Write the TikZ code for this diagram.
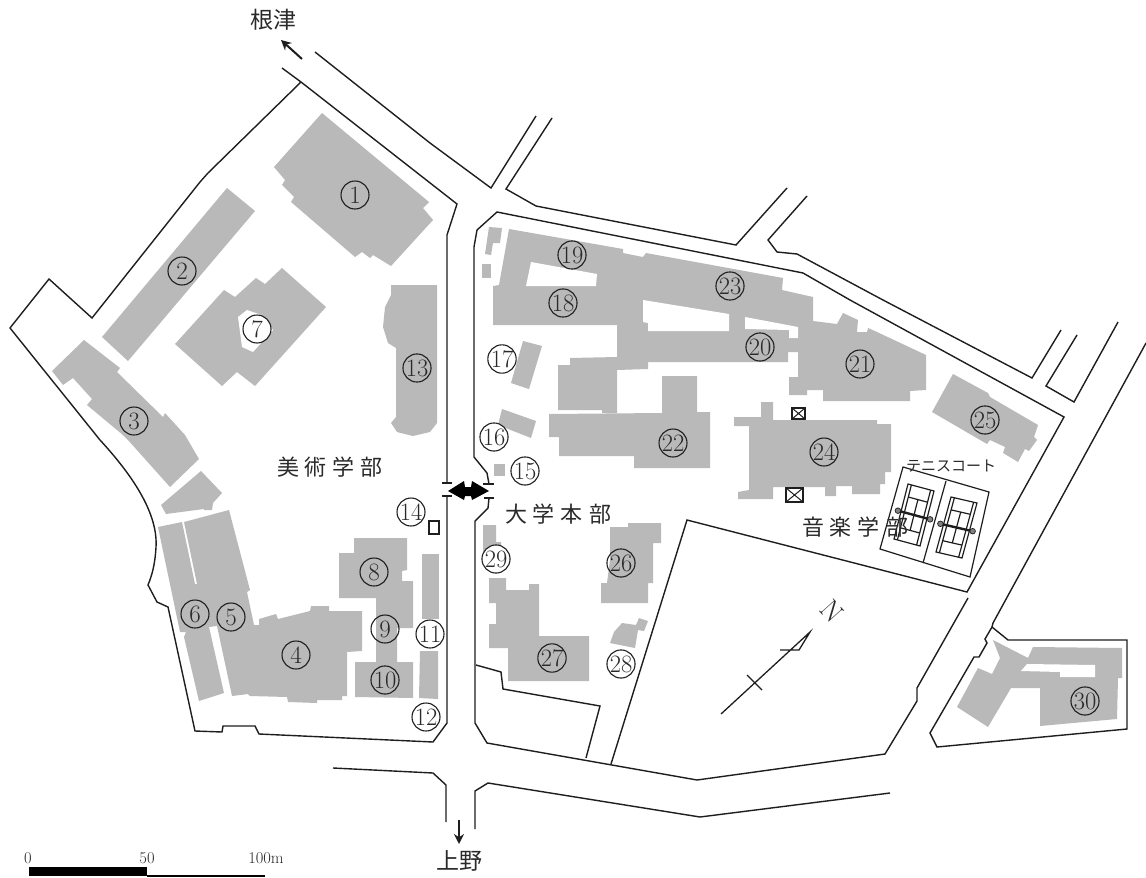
\documentclass[tikz,border=0pt]{standalone}
\usepackage{fontspec}
\usetikzlibrary{arrows.meta}
\newfontfamily\cjk{Noto Sans CJK JP}[Scale=1]
\definecolor{bld}{HTML}{B9B9B9}
\definecolor{ink}{HTML}{1E1E1E}
\definecolor{txt}{HTML}{2A2A2A}
\tikzset{
  road/.style={draw=ink,line width=1.4pt,line join=miter},
  bldg/.style={fill=bld,draw=none},
  hole/.style={fill=white,draw=none},
  num/.style={circle,draw=ink,line width=1.1pt,minimum size=28pt,inner sep=0pt,text=txt,font=\fontsize{25}{25}\selectfont},
  numw/.style={num,fill=white},
  jp/.style={text=txt,inner sep=0pt,font=\cjk\fontsize{22}{22}\selectfont},
  scalet/.style={text=txt,inner sep=0pt,font=\fontsize{16.5}{16.5}\selectfont},
  thinl/.style={draw=ink,line width=1.2pt},
  xbox/.style={draw=ink,line width=1.4pt,fill=white},
}
\newcommand{\twod}[1]{\scalebox{0.98}[1]{\fontsize{25}{25}\selectfont #1}}
\newcommand{\courtshape}{%
  \draw[thinl] (0,0)--(1,0)--(1,1)--(0,1)--cycle;
  \draw[thinl] (0.13,0) -- (0.13,1) (0.87,0) -- (0.87,1);
  \draw[thinl] (0.13,0.22) -- (0.87,0.22) (0.13,0.78) -- (0.87,0.78);
  \draw[thinl] (0.5,0.22) -- (0.5,0.78);
  \draw[draw=ink,line width=2.4pt] (-0.12,0.5) -- (1.12,0.5);
  \filldraw[fill=bld!70!black,draw=ink,line width=0.7pt] (-0.12,0.5) circle [x=1pt,y=1pt,radius=2.8];
  \filldraw[fill=bld!70!black,draw=ink,line width=0.7pt] (1.12,0.5) circle [x=1pt,y=1pt,radius=2.8];
}
\begin{document}
\begin{tikzpicture}[x=1pt,y=-1pt]
\useasboundingbox (0,0) rectangle (1146,878);
\fill[white] (0,0) rectangle (1146,878);

% ---- buildings ----
\path[bldg] (322,113)--(429,202)--(423,208)--(433,220)--(391,266)--(373,255)--(370,258)--(362,252)--(355,257)--(291,202)--(294,197)--(282,185)--(285,180)--(274,167)--cycle;
\path[bldg] (227,188)--(255,211)--(128,361)--(102,337)--cycle;
\path[bldg] (282,268)--(326,307)--(255,386)--(237,372)--(222,386)--(175,344)--(224,290)--(235,297)--(256,278)--(265,284)--cycle;
\path[hole] (247,310)--(262,315)--(273,330)--(253,352)--(242,347)--(238,317)--cycle;
\path[bldg] (391,285)--(437,285)--(437,423)--(430,432)--(413,436)--(397,432)--(391,423)--(396,417)--(396,348)--(388,343)--(383,327)--(385,307)--(391,295)--cycle;
\path[bldg] (84,340)--(120,368)--(117,372)--(163,417)--(165,413)--(185,435)--(199,459)--(170,487)--(128,440)--(123,435)--(87,405)--(92,399)--(73,378)--(63,385)--(52,371)--cycle;
\path[bldg] (201,471)--(222,493)--(213,503)--(212,510)--(204,510)--(204,509)--(166,514)--(161,505)--cycle;
\path[bldg] (158,527)--(182,522)--(195,584)--(197,584)--(184,522)--(229,510)--(250,590)--(247,592)--(254,625)--(259,625)--(259,619)--(276,614)--(278,619)--(310,611)--(311,606)--(329,606)--(329,611)--(362,611)--(362,651)--(347,652)--(347,696)--(342,696)--(342,700)--(317,700)--(317,703)--(288,702)--(287,697)--(250,696)--(248,694)--(232,696)--(217,626)--(209,627)--(224,693)--(199,701)--(184,637)--(186,632)--(180,632)--cycle;
\path[bldg] (354,538)--(407,538)--(407,570)--(402,571)--(402,581)--(413,581)--(413,628)--(397,628)--(397,662)--(413,662)--(413,698)--(355,697)--(355,662)--(376,662)--(376,598)--(339,598)--(339,553)--(354,553)--cycle;
\path[bldg] (422,554) rectangle (439,619);
\path[bldg] (420,651)--(438,651)--(438,699)--(419,698)--cycle;
\path[bldg] (489,227)--(502,228)--(500,243)--(493,243)--(491,255)--(485,254)--cycle;
\path[bldg] (482,264) rectangle (491,278);
\path[bldg] (509,229)--(623,249)--(623,253)--(643,257)--(646,253)--(783,278)--(782,290)--(813,297)--(813,321)--(837,324)--(843,313)--(858,320)--(857,332)--(867,332)--(868,328)--(877,332)--(926,355)--(926,390)--(910,391)--(910,401)--(823,401)--(823,390)--(807,390)--(807,395)--(789,395)--(789,377)--(798,377)--(798,352)--(788,352)--(788,362)--(648,362)--(648,369)--(617,370)--(617,413)--(602,413)--(602,410)--(558,410)--(558,365)--(570,365)--(570,358)--(617,357)--(617,325)--(493,325)--(493,286)--(499,285)--cycle;
\path[hole] (531,262)--(597,274)--(596,286)--(526,286)--cycle;
\path[hole] (643,300)--(729,314)--(729,331)--(648,331)--(648,323)--(643,322)--cycle;
\path[hole] (745,317)--(798,327)--(798,338)--(789,338)--(789,330)--(745,329)--cycle;
\path[bldg] (549,414)--(662,413)--(662,376)--(697,376)--(697,412)--(710,412)--(710,468)--(634,468)--(634,456)--(559,456)--(559,437)--(549,437)--cycle;
\path[bldg] (523,341)--(542,346)--(529,389)--(511,383)--cycle;
\path[bldg] (502,409)--(536,421)--(531,438)--(498,425)--cycle;
\path[bldg] (494,464) rectangle (505,476);
\path[bldg] (734,417)--(761,417)--(761,402)--(773,402)--(773,420)--(877,420)--(877,424)--(891,424)--(891,472)--(885,472)--(885,484)--(880,484)--(880,494)--(852,494)--(852,486)--(836,486)--(836,496)--(825,496)--(825,487)--(773,487)--(773,499)--(738,499)--(738,492)--(749,490)--(749,426)--(734,426)--cycle;
\path[bldg] (953,374)--(988,393)--(990,397)--(1038,425)--(1034,437)--(1037,440)--(1029,451)--(1025,449)--(1018,462)--(1003,453)--(1005,447)--(990,440)--(987,444)--(932,412)--cycle;
\path[bldg] (610,527)--(628,527)--(628,523)--(661,523)--(661,543)--(653,543)--(653,583)--(648,583)--(648,603)--(601,603)--(601,583)--(607,583)--(610,560)--cycle;
\path[bldg] (483,525)--(496,525)--(496,542)--(501,542)--(501,552)--(483,552)--cycle;
\path[bldg] (489,578)--(506,578)--(506,590)--(529,590)--(529,584)--(539,584)--(539,636)--(589,636)--(589,681)--(508,681)--(508,648)--(489,648)--(489,624)--(496,624)--(496,603)--(489,603)--cycle;
\path[bldg] (639,618)--(648,621)--(644,631)--(638,630)--(635,648)--(610,643)--(614,632)--(622,623)--(636,625)--cycle;
\path[bldg] (993,640)--(1028,658)--(1033,647)--(1122,648)--(1122,678)--(1118,678)--(1117,719)--(1040,726)--(1040,688)--(1011,688)--(988,727)--(957,707)--(978,668)--(992,674)--(1000,658)--cycle;
\path[hole] (1027,664)--(1095,665)--(1095,677)--(1060,677)--(1060,672)--(1021,671)--cycle;

% ---- roads and boundaries ----
\draw[road] (282,68)--(301,82)--(457,204)--(447,235)--(447,483);
\draw[road] (442,483)--(452,483);
\draw[road] (442,496)--(452,496);
\draw[road] (447,496)--(447,723)--(433,742)--(259,734)--(255,726)--(223,726)--(222,732)--(195,731)--(168,607)--(157,602)--(148,585)
  .. controls (152,575) and (155,565) .. (156,547) .. controls (158,515) and (135,478) .. (100,440)
  --(10,328)--(49,279)--(92,318)--(200,182)--(208,173)--(301,82);
\draw[road] (315,52)--(430,143)--(491,188)--(536,116);
\draw[road] (552,118)--(506,189)--(536,206)--(736,245)--(787,188);
\draw[road] (807,196)--(768,240)--(777,252)--(797,254)--(883,300)--(1032,378)--(1061,330);
\draw[road] (1077,335)--(1046,386)--(1074,402)--(1118,322);
\draw[road] (1146,343)--(993,623)--(992,627)--(1008,640)--(1127,640)--(1127,729)--(937,747)--(930,733)--(974,657)--(979,657)--(987,643)--(985,639)--(992,627);
\draw[road] (483,484)--(494,484);
\draw[road] (484,498)--(494,498);
\draw[road] (489,484)--(487,473)--(474,457)--(474,247)--(477,230)--(497,212)--(803,273)--(850,300)--(1064,417)--(967,592)--(687,520)--(611,764);
\draw[road] (489,498)--(488,508)--(475,521)--(475,723)--(487,743)--(697,780)--(885,754)--(917,701)--(917,688)--(968,598);
\draw[road] (476,665)--(501,672)--(503,689)--(600,706)--(586,758);
\draw[road] (333,768)--(433,773)--(446,785)--(446,822);
\draw[road] (475,829)--(475,791)--(488,783)--(700,817)--(890,793);

% ---- arrows ----
\draw[draw=ink,line width=2pt,-{Stealth[length=10pt,width=10pt]}] (302,59)--(281,40);
\draw[draw=ink,line width=2pt,-{Stealth[length=10pt,width=10pt]}] (459,820)--(459,844);
\fill[black] (448,491)--(464,481)--(465,487)--(471,487)--(472,481)--(489,491)--(472,500)--(471,496)--(465,496)--(464,500)--cycle;

% ---- small marks ----
\draw[xbox] (429,521) rectangle (439,534);
\draw[xbox] (792,408) rectangle (805,419);
\draw[draw=ink,line width=1pt] (792,408)--(805,419) (792,419)--(805,408);
\draw[xbox] (786,488) rectangle (803,502);
\draw[draw=ink,line width=1pt] (786,488)--(803,502) (786,502)--(803,488);

% ---- tennis ----
\draw[thinl] (903,467)--(989,492)--(970,577)--(880,549)--cycle;
\draw[thinl] (946,481)--(923,563);
\begin{scope}[shift={(908,484)},x={(26pt,-7pt)},y={(-14pt,-55pt)}]
\courtshape
\end{scope}
\begin{scope}[shift={(951,497)},x={(26pt,-6pt)},y={(-15pt,-55pt)}]
\courtshape
\end{scope}

% ---- north ----
\draw[thinl,line width=1.3pt] (721,714)--(810,632)--(799,650)--(780,650);
\draw[thinl,line width=1.3pt] (747,675)--(762,690);
\node[rotate=-48,text=txt,inner sep=0pt,font=\fontsize{28}{28}\selectfont] (north) at (832,611) {N};

% ---- scale ----
\fill[black] (29,867) rectangle (147,876);
\draw[draw=black,line width=1.8pt] (147,876)--(265,876);
\node[scalet] (s0) at (28,858) {0};
\node[scalet] (s50) at (147,858) {50};
\node[scalet] (s100) at (266,858) {100m};

% ---- place names ----
\node[jp,font=\cjk\fontsize{23}{23}\selectfont] (nezu) at (273,20) {根津};
\node[jp,font=\cjk\fontsize{23}{23}\selectfont] (ueno) at (459,861) {上野};
\node[jp] (bijutsu) at (330,467) {美\hspace{6pt}術\hspace{6pt}学\hspace{6pt}部};
\node[jp] (honbu) at (558,514) {大\hspace{6pt}学\hspace{6pt}本\hspace{6pt}部};
\node[jp] (ongaku) at (855,527) {音\hspace{6pt}楽\hspace{6pt}学\hspace{6pt}部};
\node[jp,font=\cjk\fontsize{15}{15}\selectfont] (tennis) at (951,466) {テニスコート};

% ---- numbers ----
\node[num] (n1) at (355,195) {1};
\node[num] (n2) at (182,271) {2};
\node[num] (n3) at (134,421) {3};
\node[num] (n4) at (296,655) {4};
\node[num] (n5) at (231,617) {5};
\node[num] (n6) at (195,614) {6};
\node[numw] (n7) at (257,329) {7};
\node[num] (n8) at (374,572) {8};
\node[num] (n9) at (385,629) {9};
\node[num] (n10) at (385,680) {\twod{10}};
\node[numw] (n11) at (430,634) {\twod{11}};
\node[numw] (n12) at (426,717) {\twod{12}};
\node[num] (n13) at (417,368) {\twod{13}};
\node[numw] (n14) at (411,512) {\twod{14}};
\node[numw] (n15) at (525,471) {\twod{15}};
\node[numw] (n16) at (494,437) {\twod{16}};
\node[numw] (n17) at (502,359) {\twod{17}};
\node[num] (n18) at (563,303) {\twod{18}};
\node[num] (n19) at (572,255) {\twod{19}};
\node[num] (n20) at (760,347) {\twod{20}};
\node[num] (n21) at (860,364) {\twod{21}};
\node[num] (n22) at (673,443) {\twod{22}};
\node[num] (n23) at (730,286) {\twod{23}};
\node[num] (n24) at (824,452) {\twod{24}};
\node[num] (n25) at (985,420) {\twod{25}};
\node[num] (n26) at (621,563) {\twod{26}};
\node[num] (n27) at (552,658) {\twod{27}};
\node[numw] (n28) at (621,664) {\twod{28}};
\node[numw] (n29) at (496,559) {\twod{29}};
\node[num] (n30) at (1085,701) {\twod{30}};
\end{tikzpicture}
\end{document}
